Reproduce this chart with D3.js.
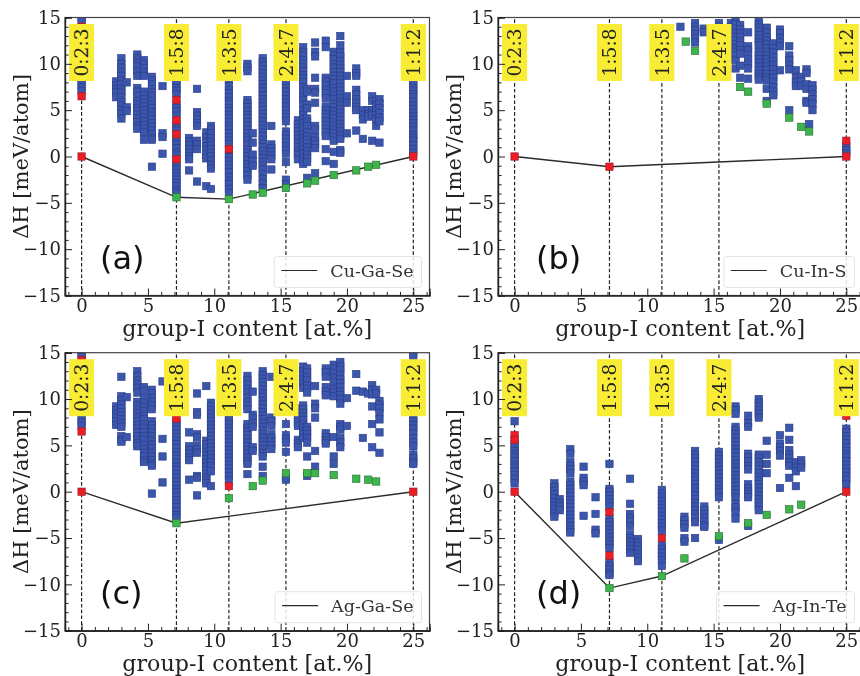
<!DOCTYPE html>
<html>
<head>
<meta charset="utf-8">
<script src="https://cdn.jsdelivr.net/npm/d3@7"></script>
<style>
html, body { margin: 0; padding: 0; background: #fff; overflow: hidden; }
svg { display: block; filter: blur(0.45px); }
</style>
</head>
<body>
<svg width="860" height="676"></svg>
<script>
// stoichiometry markers
var compX = [0, 7.15, 11.1, 15.4, 25];
var compLabels = ["0:2:3", "1:5:8", "1:3:5", "2:4:7", "1:1:2"];
var xTicks = [0, 5, 10, 15, 20, 25];
var yTicks = [-15, -10, -5, 0, 5, 10, 15];
var xMinor = [-1, 1, 2, 3, 4, 6, 7, 8, 9, 11, 12, 13, 14, 16, 17, 18, 19, 21, 22, 23, 24, 26];
var yMinor = [-14, -13, -12, -11, -9, -8, -7, -6, -4, -3, -2, -1, 1, 2, 3, 4, 6, 7, 8, 9, 11, 12, 13, 14];

// blue points, one row per column: [x, y, y, y...]
var blueA = [
  [0, 15, 14.6, 8.9, 8.4, 8, 7.5, 7.1],
  [2.6, 8.1, 7.7, 7.3, 6.9, 6.4],
  [3, 10.6, 10, 9.6, 9.1, 8.7, 8.2, 7.8, 7.3, 6.9, 6.4, 5.9, 5.5, 5, 4.6, 4.1],
  [3.4, 8, 5.3, 4.9],
  [4.2, 11, 10.6, 10.1, 9.7, 9.2, 8.7, 7.4, 7, 6.5, 6, 5.6, 5.2, 4.9, 4.5, 4.1, 3.7, 3.3, 3],
  [4.7, 10.4, 10, 9.5, 9.1, 8.7, 7, 6.6, 6.2, 5.8, 5.4, 5, 4.6, 4.2, 3.8, 3.4, 3, 2.6, 1.8],
  [5.3, 8.6, 8.2, 7.8, 7.3, 6.9, 6.5, 6, 5.6, 5.2, 4.8, 4.4, 4, 3.6, 3.2, 2.8, 2.4, 2, 1.8, -1.1],
  [6.1, 7.6, 2.5, 2.1, 0.3],
  [7.15, 8.2, 7.8, 7.4, 7.1, 6.7, 5.6, 5.2, 4.9, 4.4, 3.5, 3.1, 2.8, 2, 1.6, 1.3, 0.9, 0.4, 0.1, -0.7, -1, -1.4, -1.8, -2.2, -2.5, -2.9, -3.2, -3.6, -3.9],
  [8.1, 2, 1.6, 1.2, 0.8, 0.4, 0, -0.3, -1.5],
  [8.7, 7.3, 4.8, 4.4, 4, 3.6, 3.3, 1.7, 1.3, 0.8, -2.7],
  [9.4, 2.6, 2.1, 1.6, 1.1, 0.7, 0.2, -0.2, -3.2],
  [9.75, 3.3, 2.9, 2.5, 2, 1.6, 1.2, 0.8, 0.4, 0, -0.4, -0.9, -1.3, -3.5],
  [11.1, 8.2, 7.6, 7.2, 6.8, 6.4, 6, 5.7, 5.2, 4.9, 4.5, 4.1, 3.7, 3.3, 3, 2.5, 2.1, 1.7, 1.3, 0.3, -0.1, -0.5, -0.9, -1.3, -1.7, -2.2, -2.6, -3, -3.5, -3.9],
  [12.5, 10, 9.6, 9.2, 6.1, 5.7, 5.3, 4.9, 4.5, 4.1, 3.7, 3.3, 2.9, 2.5, 2.1, 1.7, 1.2, 0.8, 0.4, 0, -0.4, -0.8, -1.2, -1.6, -2, -2.5],
  [12.9, 2.5, 1.5, 0.2, -0.5, -1],
  [13.65, 10.6, 10.2, 9.8, 9.4, 9, 8.6, 8.2, 7.8, 7.4, 7, 6.6, 6.2, 5.8, 5.4, 5, 4.6, 4.2, 3.8, 3.4, 3, 2.6, 2.2, 1.8, 1.4, 1, 0.6, 0.2, -0.2, -0.6, -1, -1.4, -1.9, -2.4, -2.9, -3.4],
  [14.3, 3.3, 1.3, 0.9, 0.5, 0.1, -0.3, -1.4],
  [15.4, 8.2, 7.8, 7.4, 7, 6.6, 6.2, 5.8, 5.4, 5, 4.6, 4.2, 3.8, 2.7, 2.3, 1.9, 1.5, 1.1, 0.7, 0.3, -0.6, -2.5, -3],
  [16.3, 3.9, 3.5, 3.1, 2.7, 2.3, 1.9, 1.5, 1, 0.6, 0.2, -0.3],
  [16.7, 11.8, 11.3, 10.9, 10.4, 10, 9.6, 9.2, 8.8, 8.4, 8, 7.5, 7, 6.5, 6.1, 5.6, 5, 4.5, 4, 3.6, 3.2, 2.8, 2.4, 2, 1.6, 1.2, 0.8, 0.3, -0.1, -0.5, -0.8],
  [17, 7.3, 7, 5.6, 5.2, 4.1, 3.7, 3.3, 2.6, 2.2, 1.8, 1.4, 1, 0.6, 0.2, -0.2, -0.6, -2.3],
  [17.6, 12.3, 11.3, 10.8, 8.5, 7.3, 6.9, 5.8, 3.3, 2.9, 2.1, 1.7, 1.3, 0.9, -1.8],
  [18.4, 12.5, 11.8, 8.5, 8.1, 7.7, 7.2, 6.8, 6.3, 5.4, 5, 4.6, 4.2, 3.8, 3.4, 3, 2.6, 2.2, 0.8, -0.5],
  [19, 11.3, 10.9, 10.5, 10, 9.6, 9.1, 8.7, 8.3, 7.9, 7.4, 7, 6.6, 6.2, 5.7, 5.3, 4.9, 4.5, 4.1, 3.7, 3.3, 2.9, 2.5, 2.1, 1.7, 0.5, -0.8],
  [19.5, 13, 12, 11.2, 10.8, 10.3, 9.9, 9.5, 9.1, 8.7, 8.3, 7.9, 7.5, 7.1, 6.7, 6.3, 5.9, 5.5, 5.1, 4.7, 4.3, 3.9, 3.5, 3.1, 2.7, 2.3, 1.9, 0.7, 0.4],
  [20, 8.7, 6.5, 5.8, 2.5],
  [20.7, 9.5, 9, 8.7, 7.2, 6.7, 6.2, 5.8, 5.3, 5, 2.8],
  [21.2, 5, 4.5, 4, 1.9],
  [21.6, 5, 4.6, 4.3],
  [21.9, 6.5, 6, 5, 4.5, 1.7],
  [22.2, 6, 5.5, 5, 4.5, 4, 3.3],
  [22.45, 6.2, 5.7, 5.2, 4.7, 4.2, 3.8, 1.5],
  [25, 8.6, 8.2, 7.8, 7.4, 7.1, 6.7, 6.4, 5.9, 5.5, 5.1, 4.7, 4.3, 3.9, 3.6, 3.2, 2.8, 2.3, 2, 1.7, 1.2, 0.8, 0.4]
];
var blueB = [
  [12.5, 14],
  [13.6, 14.4, 14, 13.6, 13.2, 12.8, 12.3],
  [14.25, 13.8, 13.4],
  [15.4, 14.4, 14, 13.5, 13, 12.5, 12, 11.5, 11, 10.5],
  [16.3, 14.4, 14, 13.6, 13.2, 12.8, 12.4, 12, 11.6, 11.2, 10.8, 10.5],
  [16.65, 14.7, 14.3, 13.8, 13.3, 12.9, 12.5, 12.1, 11.7, 11.3, 10.9, 10.4, 9.5],
  [17, 14.2, 13.7, 13.3, 12.9, 12.4, 12, 11.5, 11.1, 9.8, 8.5],
  [17.6, 13.4, 11.9, 11.5, 11, 10.5, 10, 9.5, 8.4],
  [18.4, 14.7, 14.3, 13.9, 13.5, 13.1, 12.7, 12.3, 12, 11.3, 10.9, 10.5, 10.1, 9.7, 9.3, 8.9, 8.6, 8.3],
  [19, 13.9, 13.4, 12.9, 12.5, 12.1, 11.7, 11.3, 10.9, 10.5, 10.1, 9.7, 9.3, 8.9, 8.5, 8.2, 7.3, 6],
  [19.5, 12.2, 11.7, 11.2, 10.7, 10.3, 9.9, 9.4, 8.9, 8.5, 8, 7.5, 7, 6.6],
  [20, 13.7, 13.3, 12.8, 12.3, 11.9, 9.3],
  [20.7, 11.9, 10.9, 10.4, 9.9, 9.4, 5],
  [21.2, 9.3, 8.5, 8, 7.6],
  [21.6, 8.6, 8.1, 7.6],
  [22, 9.4, 9, 7.8, 7.3, 6, 5.8],
  [22.2, 3.5],
  [22.45, 7.7, 7.2, 6.7, 6.2, 5.7, 5],
  [25, 1.1, 0.7, 0.3]
];
var blueC = [
  [0, 15, 14.6, 8.5, 8, 7.5, 7.1],
  [2.6, 9.2, 8.8, 8.4, 8, 7.6, 7.2],
  [3, 12.4, 10.3, 9.9, 9.4, 9, 8.6, 8.2, 7.8, 7.4, 7, 6, 5.6, 5.4],
  [3.4, 10.2, 5.9],
  [4.2, 13, 12.5, 12, 11.6, 11.2, 10.7, 9.7, 9.3, 8.9, 8.5, 8, 7.6, 7.2, 6.8, 6.4, 6, 5.6, 5.2, 4.9],
  [4.7, 11.3, 10.9, 10.1, 9.6, 9.1, 8.7, 8.2, 7.8, 7.3, 6.9, 6.4, 6, 5.6, 5, 4.6, 4.2, 3.8, 3.4, 3.2],
  [5.3, 11, 10.6, 10.1, 9.7, 9.3, 8.9, 7.6, 7.2, 6.8, 6.4, 6, 5.5, 5.1, 4.7, 4.2, 3.8, 3.4, 3, 2.8, -0.2],
  [6.1, 11.9, 5.7, 3.8, 1],
  [7.15, 8.5, 7.5, 7.1, 6.7, 6.3, 5.9, 5.5, 5.1, 4.7, 4.3, 3.9, 3.5, 3.1, 2.7, 2.3, 1.9, 1.5, 1.1, 0.7, 0.3, -0.1, -0.5, -0.9, -1.3, -1.7, -2.1, -2.5, -2.8],
  [8.1, 6.4, 4.9, 4.5, 4.1, 3.7, 3.4, 1.3],
  [8.7, 10.6, 8.6, 8.3, 6.2, 5.9, 5, 4.6, 4.2, 1.7, 1.5, -0.4],
  [9.4, 11.4, 5.5, 5.1, 4.7, 4.3, 3.9, 3.5, 3.1, 2.7, 2.3, 1.9, 1.5, 1.2, 0.9],
  [9.75, 9.6, 9.2, 8.8, 8.4, 8, 7.6, 7.2, 6.8, 6.4, 6, 5.6, 5.2, 4.8, 4.4, 4, 3.6, 3.2, 2.8, 2.2, 0.6],
  [11.1, 8.5, 8.1, 7.7, 7.3, 6.9, 6.5, 6.1, 5.7, 5.3, 4.9, 4.5, 4.1, 3.7, 3.3, 2.9, 2.5, 2.1, 1.7, 1.2],
  [12.5, 12.5, 12, 11.6, 11.1, 10.7, 10.2, 9.7, 9.3, 8.9, 7.3, 6.9, 6.5, 6.1, 5.7, 5.3, 4.9, 4.5, 4.1, 3.7, 3.3, 3, 1.9],
  [12.9, 10.8, 8.3, 7.9, 7.4, 7, 4.8, 4.4],
  [13.65, 13, 12.6, 12.2, 11.8, 11.4, 11, 10.6, 10.2, 9.8, 9.4, 9, 8.6, 8.2, 7.8, 7.4, 7, 6.6, 6.2, 5.8, 5.4, 5, 4.6, 4.2, 3.8, 2.7, 1.7],
  [14.3, 12.4, 8, 7.6, 7.1, 6.2, 5.8, 5.4, 5, 4.6],
  [15.4, 8.6, 7.3, 6.1, 5.7, 5.3, 4.3, 1.5, 1.3],
  [16.3, 9, 8.5, 8, 7.5, 7.1, 5.6, 5.2, 4.8],
  [16.7, 13.5, 13, 12.6, 12.1, 11.7, 11.2, 9.3, 8.9, 8.5, 8.1, 7.7, 7.3, 6.9, 6.5, 6.2, 5.8],
  [17, 13.3, 12.9, 12.4, 12, 11.5, 11.1, 10.7, 7, 6.6, 6.2, 5.8, 5.3, 3.8, 1.7],
  [17.6, 11.4, 9.5, 9, 8, 4.4, 2.7],
  [18.4, 13.3, 12.9, 12.4, 11.3, 10.8, 10.4, 6.3, 5.9, 5.5, 5.2],
  [19, 13.7, 13.3, 12.8, 12.3, 11.8, 11.1, 10.7, 10.3, 5.9, 3.8, 3],
  [19.5, 14, 13.5, 13.1, 12.6, 12.1, 11.7, 11.3, 10.8, 10.4, 10, 9.5, 7.3, 7, 6.7, 5.8, 5.3, 4.8],
  [20, 10.1, 7.1],
  [20.7, 12.7, 10.9],
  [21.2, 10.8, 5.8],
  [21.6, 10.6],
  [21.9, 11.5, 11, 10.5, 9.2, 7.3, 4.8],
  [22.2, 11, 10.6],
  [22.45, 9.8, 9.4, 9, 8.5, 7.8, 6.4, 4.2],
  [25, 15, 14.6, 8, 7.6, 7.2, 6.8, 6.3, 5.8, 5.3, 4.9, 4, 3.6, 3.2, 3]
];
var blueD = [
  [0, 7.6, 5.2, 4.8, 4.4, 4, 3.7, 3.3, 2.9, 2.6, 2.2, 1.8, 1.4, 0.9],
  [3, 0.9, 0.5, 0.1, -0.3, -0.7, -1.1, -1.5, -1.9, -2.3, -2.7],
  [3.4, -0.8, -1.2, -1.6, -2],
  [4.2, 4.6, 4.1, 3.2, 2.8, 2.4, 2, 1.1, 0.7, 0.3, -0.1, -0.5, -0.9, -1.3, -1.7, -2.1, -2.5, -2.9, -3.3, -3.7, -4.1, -4.4],
  [5.2, 2.7, 1.5, 1.1, 0.7, -2.6],
  [6.1, -0.6, -2.4, -4.1, -4.5],
  [7.15, 3, 0.3, 0, -0.4, -0.8, -1.2, -1.6, -2.9, -3.3, -3.7, -4.1, -4.5, -4.9, -5.3, -5.7, -6.1, -7.6, -8, -8.4, -8.8, -9],
  [8.7, 1.4, -1.3, -2.4, -2.8, -3.2, -3.7, -4.6, -5, -5.4, -5.8, -6.2, -6.6],
  [9.3, -5.1, -5.5, -5.9, -6.3, -6.7, -7.1, -7.5],
  [11.1, 0.2, -0.2, -0.6, -1, -1.4, -1.8, -2.2, -2.6, -3, -3.4, -3.8, -4.2, -5.8, -6.2, -6.6, -7, -7.4, -8],
  [12.8, -2.7, -3.1, -3.5, -3.9, -5, -5.4],
  [13.6, 4.4, 4, 3.6, 3.2, 2.8, 2.4, 2, 1.6, 1.2, 0.8, 0.4, 0, -0.4, -0.8, -1.2, -1.6, -2, -2.4, -2.8, -3.3, -5],
  [14.3, -1.6, -2, -2.4, -2.8, -3.2, -3.6, -3.8],
  [15.4, 4.3, 3.9, 3.5, 3.1, 2.7, 2.3, 1.9, 1.5, 1.1, 0.7, 0.3, -0.1, -0.6, -5.2],
  [16.65, 9.2, 8.8, 8.4, 7, 6.6, 6.2, 5.8, 5.4, 5, 4.6, 4.2, 3.8, 3.4, 3, 2.6, 2.2, 1.8, 1.4, 1, 0.6, 0.2, -0.2, -0.6, -1.3, -1.7, -2.2, -2.9],
  [17.6, 8.2, 7.4, 7, 4.1, 3.7, 3.3, 2.8, 2.4, 0.8, 0.4, 0, -0.3, -0.6, -3.7],
  [18.4, 10, 9.6, 9.2, 8.8, 8.4, 8, 4, 3.6, 3.2, 2.8, 2.4, 2, 1.6, 1.2, 0.8, 0.4, 0, -0.4, -0.8, -1.2, -1.6, -2],
  [19, 5.5, 4, 3, 2],
  [20, 6.1, 5.2, 4.8, 4.4, 3.9, 0.4],
  [20.7, 6.9, 5.6, 4.5, 4, 3.6, 3.2, 2.8, 1.5],
  [21.2, 3.2, 2.6, 2.2, 0.6],
  [21.6, 3.4, 3, 2.6],
  [25, 6.8, 6.4, 6, 5.6, 5.2, 4.8, 4.4, 4, 3.7, 3.3, 2.9, 2.5, 2.1, 1.7, 1.3, 0.8]
];

// red points [x, y]
var redA = [[0, 14], [0, 6.5], [0, 0], [7.15, 6.1], [7.15, 3.9], [7.15, 2.4], [7.15, -0.3], [11.1, 0.8], [25, 0]];
var redB = [[0, 0], [7.15, -1.1], [25, 1.7], [25, 0]];
var redC = [[0, 14.2], [0, 6.5], [0, 0], [7.15, 7.9], [11.1, 0.6], [25, 0]];
var redD = [[0, 6.1], [0, 5.6], [0, 0], [7.15, -2.2], [7.15, -6.9], [11.1, -5], [25, 8.2], [25, 0]];

// green points [x, y]
var greenA = [[7.15, -4.4], [11.1, -4.6], [12.9, -4.1], [13.65, -3.9], [15.4, -3.4], [17, -2.9], [17.6, -2.6], [19, -2], [20.7, -1.5], [21.6, -1.1], [22.2, -0.9]];
var greenB = [[12.9, 12.4], [13.6, 11.4], [17, 7.5], [17.6, 7], [19, 5.7], [20.7, 4.2], [21.6, 3.2], [22.2, 2.7]];
var greenC = [[7.15, -3.4], [11.1, -0.7], [12.9, 0.6], [13.65, 1.2], [15.4, 2], [17, 2], [17.6, 2], [19, 1.8], [20.7, 1.4], [21.6, 1.3], [22.2, 1.1]];
var greenD = [[7.15, -10.4], [11.1, -9.1], [12.8, -7.2], [15.4, -4.8], [17.6, -3.4], [19, -2.5], [20.7, -1.9], [21.6, -1.4]];

// convex hull lines
var hullA = [[0, 0], [7.15, -4.4], [11.1, -4.6], [25, 0]];
var hullB = [[0, 0], [7.15, -1.1], [25, 0]];
var hullC = [[0, 0], [7.15, -3.4], [25, 0]];
var hullD = [[0, 0], [7.15, -10.4], [11.1, -9.1], [25, 0]];

var svg = d3.select("svg");
var serif = "'DejaVu Serif', serif";
var size = 7.4;

var drawPanel = function(id, left, top, letter, letterDx, system, blue, red, green, hull)
{
  var width = 364.5;
  var height = 278;
  var x = d3.scaleLinear().domain([-1.25, 26.22]).range([left, left + width]);
  var y = d3.scaleLinear().domain([-15, 15]).range([top + height, top]);
  var g = svg.append("g");

  g.append("clipPath").attr("id", "clip" + id)
    .append("rect")
    .attr("x", left).attr("y", top)
    .attr("width", width).attr("height", height);

  var plot = g.append("g").attr("clip-path", "url(#clip" + id + ")");

  // dashed composition lines
  plot.selectAll(".comp")
    .data(compX)
    .enter()
    .append("line")
    .attr("x1", function(d) { return x(d); })
    .attr("x2", function(d) { return x(d); })
    .attr("y1", y(-15))
    .attr("y2", y(15))
    .attr("stroke", "#222")
    .attr("stroke-width", 1.2)
    .attr("stroke-dasharray", "3.6,2.2");

  plot.append("path")
    .datum(hull)
    .attr("d", d3.line().x(function(d) { return x(d[0]); }).y(function(d) { return y(d[1]); }))
    .attr("fill", "none")
    .attr("stroke", "#2b2b2b")
    .attr("stroke-width", 1.4);

  var points = function(data, fill, stroke)
  {
    plot.append("g").selectAll("rect")
      .data(data)
      .enter()
      .append("rect")
      .attr("x", function(d) { return x(d[0]) - size / 2; })
      .attr("y", function(d) { return y(d[1]) - size / 2; })
      .attr("width", size)
      .attr("height", size)
      .attr("fill", fill)
      .attr("stroke", stroke)
      .attr("stroke-width", 0.6);
  };

  var bluePoints = blue.flatMap(function(col)
  {
    return col.slice(1).map(function(v) { return [col[0], v]; });
  });
  points(bluePoints, "#3b56aa", "#2a3d8c");
  points(red, "#ee1c25", "#8a2030");
  points(green, "#3cb54a", "#2a6a3a");

  // yellow composition labels
  var labels = plot.selectAll(".lab")
    .data(compX)
    .enter()
    .append("g")
    .attr("transform", function(d) { return "translate(" + x(d) + "," + (top + 35) + ")"; });

  labels.append("rect")
    .attr("x", -12.5)
    .attr("y", -28.5)
    .attr("width", 25)
    .attr("height", 57)
    .attr("fill", "#f8ec34");

  labels.append("text")
    .text(function(d, i) { return compLabels[i]; })
    .attr("transform", "rotate(-90)")
    .attr("text-anchor", "middle")
    .attr("dy", "0.36em")
    .attr("font-family", serif)
    .attr("font-size", "18.6px")
    .attr("fill", "#222");

  // frame
  g.append("rect")
    .attr("x", left).attr("y", top)
    .attr("width", width).attr("height", height)
    .attr("fill", "none")
    .attr("stroke", "#444")
    .attr("stroke-width", 1.2);

  // axes
  var xAxis = d3.axisBottom(x).tickValues(xTicks).tickSize(-7).tickPadding(4);
  var yAxis = d3.axisLeft(y).tickValues(yTicks).tickSize(-7).tickPadding(4).tickFormat(function(d) { return String(d).replace("-", "\u2212"); });
  var gx = g.append("g").attr("transform", "translate(0," + (top + height) + ")").call(xAxis);
  var gy = g.append("g").attr("transform", "translate(" + left + ",0)").call(yAxis);
  var minorX = g.append("g").attr("transform", "translate(0," + (top + height) + ")")
    .call(d3.axisBottom(x).tickValues(xMinor).tickSize(-3.6));
  var minorY = g.append("g").attr("transform", "translate(" + left + ",0)")
    .call(d3.axisLeft(y).tickValues(yMinor).tickSize(-3.6));
  minorX.selectAll("text").remove();
  minorY.selectAll("text").remove();
  g.selectAll(".domain").attr("stroke", "#222").attr("stroke-width", 1.2);
  g.selectAll(".tick line").attr("stroke", "#222").attr("stroke-width", 1);
  gx.selectAll("text").attr("font-family", serif).attr("font-size", "18px").attr("fill", "#222");
  gy.selectAll("text").attr("font-family", serif).attr("font-size", "18px").attr("fill", "#222");

  g.append("text")
    .text("group-I content [at.%]")
    .attr("x", left + width / 2)
    .attr("y", top + height + 40.5)
    .attr("text-anchor", "middle")
    .attr("font-family", serif)
    .attr("font-size", "22.2px")
    .attr("fill", "#222");

  g.append("text")
    .text("\u0394H [meV/atom]")
    .attr("transform", "translate(" + (left - 37) + "," + (top + height / 2) + ") rotate(-90)")
    .attr("text-anchor", "middle")
    .attr("font-family", serif)
    .attr("font-size", "21px")
    .attr("fill", "#222");

  g.append("text")
    .text(letter)
    .attr("x", left + letterDx)
    .attr("y", top + height - 27)
    .attr("font-family", "'DejaVu Sans', sans-serif")
    .attr("font-size", "32px")
    .attr("fill", "#111");

  // legend
  var legend = g.append("g");
  var box = legend.append("rect");
  var label = legend.append("text")
    .text(system)
    .attr("x", left + width - 16)
    .attr("y", top + height - 19)
    .attr("text-anchor", "end")
    .attr("font-family", serif)
    .attr("font-size", "17.5px")
    .attr("fill", "#333");
  var textLeft = left + width - 16 - label.node().getComputedTextLength();
  box.attr("x", textLeft - 56)
    .attr("y", top + height - 39)
    .attr("width", left + width - 8 - (textLeft - 56))
    .attr("height", 31)
    .attr("rx", 3)
    .attr("fill", "#fff")
    .attr("fill-opacity", 0.85)
    .attr("stroke", "#e4e4e4");
  legend.append("line")
    .attr("x1", textLeft - 49)
    .attr("x2", textLeft - 13)
    .attr("y1", top + height - 25)
    .attr("y2", top + height - 25)
    .attr("stroke", "#2b2b2b")
    .attr("stroke-width", 1.2);
};

drawPanel("a", 65, 17.5, "(a)", 35, "Cu-Ga-Se", blueA, redA, greenA, hullA);
drawPanel("b", 498, 17.5, "(b)", 38, "Cu-In-S", blueB, redB, greenB, hullB);
drawPanel("c", 65, 352.7, "(c)", 35, "Ag-Ga-Se", blueC, redC, greenC, hullC);
drawPanel("d", 498, 352.7, "(d)", 38, "Ag-In-Te", blueD, redD, greenD, hullD);
</script>
</body>
</html>
